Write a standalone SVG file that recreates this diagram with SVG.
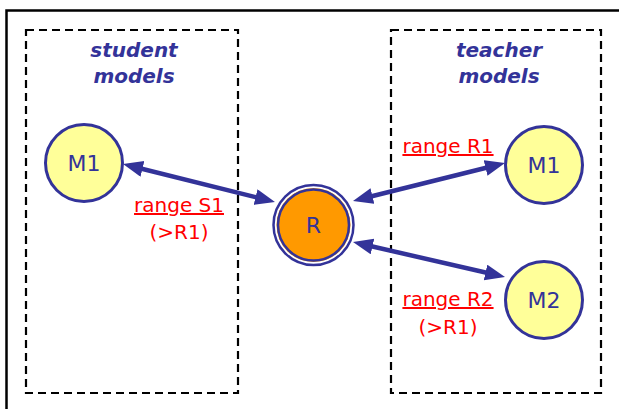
<svg xmlns="http://www.w3.org/2000/svg" width="619" height="409" viewBox="0 0 619 409">
<style>
.frame{fill:none;stroke:#000;stroke-width:2.5}
.grp{fill:none;stroke:#000;stroke-width:2.2;stroke-dasharray:8 5}
.title{font-family:"DejaVu Sans",sans-serif;font-size:20px;font-weight:bold;font-style:italic;fill:#333399;text-anchor:middle}
.node{fill:#FFFF99;stroke:#333399;stroke-width:3}
.nlab{font-family:"DejaVu Sans",sans-serif;font-size:22px;fill:#333399;text-anchor:middle}
.lab{font-family:"DejaVu Sans",sans-serif;font-size:20px;fill:#FF0000;text-anchor:middle}
.u{text-decoration:underline}
.conn{fill:none;stroke:#333399;stroke-width:4.5;marker-start:url(#ah);marker-end:url(#ah)}
</style>
<defs>
<marker id="ah" markerUnits="userSpaceOnUse" markerWidth="24" markerHeight="18" refX="9" refY="8" orient="auto-start-reverse">
<path d="M0,0 L20,8 L0,16 z" fill="#333399"/>
</marker>
</defs>
<rect class="frame" x="6.5" y="10.5" width="640" height="420"/>
<g id="student-group">
<rect class="grp" x="26" y="30" width="212" height="363"/>
<text class="title" x="134" y="57">student</text>
<text class="title" x="134" y="83">models</text>
</g>
<g id="teacher-group">
<rect class="grp" x="391" y="30" width="210" height="363"/>
<text class="title" x="499" y="57">teacher</text>
<text class="title" x="499" y="83">models</text>
</g>
<g id="connectors">
<path class="conn" d="M133.7,166.7 L264.3,199.3"/>
<path class="conn" d="M363.7,198.3 L494.3,165.7"/>
<path class="conn" d="M363.7,244.5 L494.3,274.5"/>
</g>
<g id="labels">
<text class="lab u" x="179" y="212">range S1</text>
<text class="lab" x="179" y="239">(&gt;R1)</text>
<text class="lab u" x="448" y="153">range R1</text>
<text class="lab u" x="448" y="306">range R2</text>
<text class="lab" x="448" y="334">(&gt;R1)</text>
</g>
<g id="student-M1">
<circle class="node" cx="84" cy="163" r="38.5"/>
<text class="nlab" x="84" y="171">M1</text>
</g>
<g id="R">
<circle cx="313.5" cy="225" r="40" fill="#fff" stroke="#333399" stroke-width="2.5"/>
<circle cx="313.5" cy="225" r="37" fill="#FF9900"/>
<circle cx="313.5" cy="225" r="35.5" fill="#FF9900" stroke="#333399" stroke-width="2.5"/>
<text class="nlab" x="313.5" y="233">R</text>
</g>
<g id="teacher-M1">
<circle class="node" cx="544" cy="165" r="38.5"/>
<text class="nlab" x="544" y="173">M1</text>
</g>
<g id="teacher-M2">
<circle class="node" cx="544" cy="300" r="38.5"/>
<text class="nlab" x="544" y="308">M2</text>
</g>
</svg>
